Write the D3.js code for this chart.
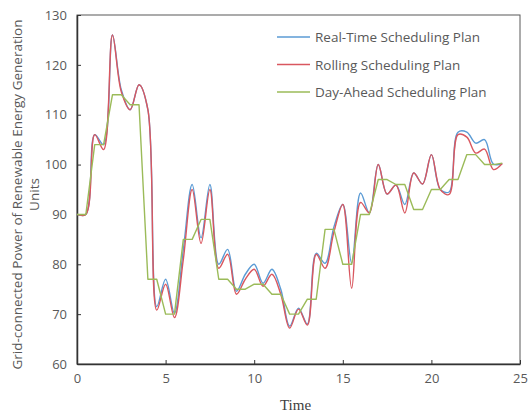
<!DOCTYPE html>
<html>
<head>
<meta charset="utf-8">
<script src="https://cdn.jsdelivr.net/npm/d3@7"></script>
<style>
  body { margin: 0; background: #fff; }
  text { font-family: "Open Sans", sans-serif; }
</style>
</head>
<body>
<div id="chart"></div>
<script>
// time in hours
const time = [0, 0.5, 1, 1.5, 2, 2.5, 3, 3.5, 4, 4.5, 5, 5.5, 6, 6.5, 7, 7.5, 8, 8.5, 9, 9.5,
  10, 10.5, 11, 11.5, 12, 12.5, 13, 13.5, 14, 14.5, 15, 15.5, 16, 16.5, 17, 17.5, 18, 18.5, 19, 19.5,
  20, 20.5, 21, 21.5, 22, 22.5, 23, 23.5, 24];

const realTime = [90, 90, 106, 104, 126, 115, 111, 116, 111, 71.5, 77, 70.2, 83, 96, 85.3, 96, 80, 83, 74.6, 78,
  80, 76.2, 79, 75, 67.6, 71.2, 68, 82.2, 80.2, 87.5, 92, 80.2, 94.3, 90.3, 100, 94.1, 95.9, 92, 98.3, 96.1,
  102, 95, 94.5, 106.5, 106.5, 104.3, 105, 100.1, 100.2];

const rolling = [90, 90, 106, 103, 126, 114.6, 111, 116, 111, 70.8, 76, 69.3, 81, 95, 84.2, 95, 79.2, 82, 74, 77,
  79, 75.6, 78, 74, 67.2, 71, 67.8, 82, 79.2, 86.5, 92, 75.2, 92.4, 90.3, 100, 94.1, 95.9, 90.3, 98.3, 96.1,
  102, 95, 94, 106, 105.5, 102.3, 103.1, 99, 100.2];

const dayAhead = [90, 90, 104, 104, 114, 114, 112, 112, 77, 77, 70, 70, 85, 85, 89, 89, 77, 77, 75, 75,
  76, 76, 74, 74, 70, 70, 73, 73, 87, 87, 80, 80, 90, 90, 97, 97, 96, 96, 91, 91,
  95, 95, 97, 97, 102, 102, 100, 100, 100.3];

const seriesNames = ["Real-Time Scheduling Plan", "Rolling Scheduling Plan", "Day-Ahead Scheduling Plan"];
const seriesColors = ["#5b9bd5", "#d9575f", "#9bbb59"];
const xTicks = [0, 5, 10, 15, 20, 25];
const yTicks = [60, 70, 80, 90, 100, 110, 120, 130];

const W = 530, H = 414;
const margin = { top: 15, right: 10, bottom: 50, left: 77 };

const svg = d3.select("#chart").append("svg")
  .attr("width", W).attr("height", H);

const x = d3.scaleLinear().domain([0, 25]).range([margin.left, W - margin.right]);
const y = d3.scaleLinear().domain([60, 130]).range([H - margin.bottom, margin.top]);

// plot frame
svg.append("rect")
  .attr("x", x(0)).attr("y", y(130))
  .attr("width", x(25) - x(0)).attr("height", y(60) - y(130))
  .attr("fill", "none").attr("stroke", "#595959").attr("stroke-width", 1);

// axes with inward ticks
const xAxis = svg.append("g")
  .attr("transform", `translate(0,${y(60)})`)
  .call(d3.axisBottom(x).tickValues(xTicks).tickSizeInner(-4).tickSizeOuter(0).tickPadding(10));
const yAxis = svg.append("g")
  .attr("transform", `translate(${x(0)},0)`)
  .call(d3.axisLeft(y).tickValues(yTicks).tickSizeInner(-4).tickSizeOuter(0).tickPadding(10));

[xAxis, yAxis].forEach((g) => {
  g.select(".domain").attr("stroke", "#333").attr("stroke-width", 1.5);
  g.selectAll(".tick line").attr("stroke", "#333");
  g.selectAll(".tick text")
    .attr("fill", "#595959")
    .style("font-size", "13px")
    .style("font-family", "'Open Sans', sans-serif");
});

// lines
const data = [realTime, rolling, dayAhead];
const smooth = d3.line()
  .x((d, i) => x(time[i]))
  .y((d) => y(d))
  .curve(d3.curveCatmullRom.alpha(0.5));
const straight = d3.line()
  .x((d, i) => x(time[i]))
  .y((d) => y(d));

data.forEach((vals, k) => {
  svg.append("path")
    .datum(vals)
    .attr("fill", "none")
    .attr("stroke", seriesColors[k])
    .attr("stroke-width", 1.4)
    .attr("stroke-linejoin", "round")
    .attr("d", k === 2 ? straight : smooth);
});

// legend
const legend = svg.append("g").attr("transform", "translate(277,37)");
seriesNames.forEach((name, k) => {
  const row = legend.append("g").attr("transform", `translate(0,${k * 27.5})`);
  row.append("line")
    .attr("x1", 0).attr("x2", 33)
    .attr("stroke", seriesColors[k]).attr("stroke-width", 1.4);
  row.append("text")
    .attr("x", 38).attr("y", 5)
    .attr("fill", "#595959")
    .style("font-size", "13.5px")
    .text(name);
});

// axis titles
svg.append("text")
  .attr("x", (x(0) + x(25)) / 2 - 3)
  .attr("y", 410)
  .attr("text-anchor", "middle")
  .attr("fill", "#404040")
  .style("font-family", "'Liberation Serif', serif")
  .style("font-size", "15px")
  .text("Time");

const yTitle = svg.append("text")
  .attr("transform", `translate(22,${(y(60) + y(130)) / 2 + 5}) rotate(-90)`)
  .attr("text-anchor", "middle")
  .attr("fill", "#595959")
  .style("font-size", "13.5px");
yTitle.append("tspan").attr("x", 0).attr("dy", 0)
  .text("Grid-connected Power of Renewable Energy Generation");
yTitle.append("tspan").attr("x", 0).attr("dy", 17)
  .text("Units");
</script>
</body>
</html>
